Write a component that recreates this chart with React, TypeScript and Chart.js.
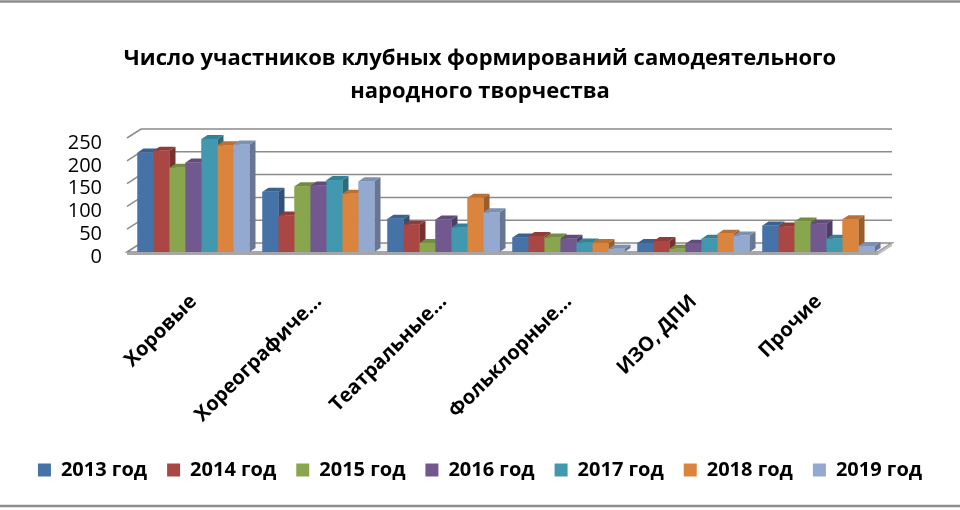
import React, { useEffect, useRef } from 'react';
import { Chart, ChartConfiguration, Plugin, registerables } from 'chart.js';

Chart.register(...registerables);

const categories = ['Хоровые', 'Хореографиче…', 'Театральные…', 'Фольклорные…', 'ИЗО, ДПИ', 'Прочие'];
const seriesNames = ['2013 год', '2014 год', '2015 год', '2016 год', '2017 год', '2018 год', '2019 год'];

const y2013 = [218, 132, 73, 32, 20, 58];
const y2014 = [222, 80, 60, 35, 24, 56];
const y2015 = [185, 144, 20, 32, 7, 67];
const y2016 = [196, 146, 71, 29, 18, 62];
const y2017 = [248, 158, 54, 21, 29, 29];
const y2018 = [234, 128, 119, 20, 40, 72];
const y2019 = [236, 155, 87, 7, 36, 13];

const yTicks = [0, 50, 100, 150, 200, 250];

const colors = ['#4572a7', '#aa4643', '#89a54e', '#71588f', '#4198af', '#db843d', '#93a9cf'];

// depth of the back wall and of each bar (fake 3D)
const WALL_DX = 14;
const WALL_DY = 9;
const BAR_DX = 6;
const BAR_DY = 4;

function shade(hex: string, f: number) {
  const n = parseInt(hex.slice(1), 16);
  const r = Math.round(((n >> 16) & 255) * f);
  const g = Math.round(((n >> 8) & 255) * f);
  const b = Math.round((n & 255) * f);
  return `rgb(${r},${g},${b})`;
}

function poly(ctx: CanvasRenderingContext2D, pts: number[][]) {
  ctx.beginPath();
  ctx.moveTo(pts[0][0], pts[0][1]);
  for (let i = 1; i < pts.length; i++) ctx.lineTo(pts[i][0], pts[i][1]);
  ctx.closePath();
}

const framePlugin: Plugin<'bar'> = {
  id: 'frame',
  beforeDraw(chart) {
    const { ctx, width } = chart;
    ctx.save();
    ctx.fillStyle = '#fff';
    ctx.fillRect(0, 0, chart.width, chart.height);
    ctx.strokeStyle = '#8e8e8e';
    ctx.lineWidth = 2.5;
    ctx.beginPath();
    ctx.moveTo(0, 1.5);
    ctx.lineTo(width, 1.5);
    ctx.moveTo(0, 506);
    ctx.lineTo(width, 506);
    ctx.stroke();
    ctx.restore();
  }
};

const wallPlugin: Plugin<'bar'> = {
  id: 'walls',
  beforeDatasetsDraw(chart) {
    const { ctx, chartArea } = chart;
    const y = chart.scales.y;
    const left = chartArea.left - 4;
    const right = chartArea.right - 3;
    ctx.save();
    ctx.strokeStyle = '#8c8c8c';
    ctx.lineWidth = 1.5;
    y.ticks.forEach((t) => {
      if (t.value === 0) return;
      const py = y.getPixelForValue(t.value);
      ctx.beginPath();
      ctx.moveTo(left, py);
      ctx.lineTo(left + WALL_DX, py - WALL_DY);
      ctx.lineTo(right + WALL_DX, py - WALL_DY);
      ctx.stroke();
    });
    const p0 = y.getPixelForValue(0);
    // floor
    poly(ctx, [[left, p0], [left + WALL_DX, p0 - WALL_DY], [right + WALL_DX, p0 - WALL_DY], [right, p0]]);
    ctx.fillStyle = '#f4f4f4';
    ctx.fill();
    ctx.stroke();
    // floor thickness
    poly(ctx, [[left, p0], [right, p0], [right, p0 + 3], [left, p0 + 3]]);
    ctx.fillStyle = '#a6a6a6';
    ctx.fill();
    poly(ctx, [[right, p0], [right + WALL_DX, p0 - WALL_DY], [right + WALL_DX, p0 - WALL_DY + 3], [right, p0 + 3]]);
    ctx.fillStyle = '#bdbdbd';
    ctx.fill();
    ctx.restore();
  }
};

const bar3dPlugin: Plugin<'bar'> = {
  id: 'bar3d',
  afterDatasetsDraw(chart) {
    const { ctx } = chart;
    ctx.save();
    chart.data.datasets.forEach((ds, i) => {
      const meta = chart.getDatasetMeta(i);
      const color = ds.backgroundColor as string;
      meta.data.forEach((el) => {
        const { x, y, base, width } = el.getProps(['x', 'y', 'base', 'width'], true) as any;
        const l = x - width / 2;
        const r = x + width / 2;
        poly(ctx, [[r, y], [r + BAR_DX, y - BAR_DY], [r + BAR_DX, base - BAR_DY], [r, base]]);
        ctx.fillStyle = shade(color, 0.7);
        ctx.fill();
        poly(ctx, [[l, y], [l + BAR_DX, y - BAR_DY], [r + BAR_DX, y - BAR_DY], [r, y]]);
        ctx.fillStyle = shade(color, 0.85);
        ctx.fill();
        ctx.fillStyle = color;
        ctx.fillRect(l, y, width, base - y);
      });
    });
    ctx.restore();
  }
};

const App = () => {
  const ref = useRef<HTMLCanvasElement | null>(null);
  const chartRef = useRef<Chart<'bar'> | null>(null);

  useEffect(() => {
    const values = [y2013, y2014, y2015, y2016, y2017, y2018, y2019];

    const config: ChartConfiguration<'bar'> = {
      type: 'bar',
      data: {
        labels: categories,
        datasets: seriesNames.map((name, i) => ({
          label: name,
          data: values[i],
          backgroundColor: colors[i],
          borderWidth: 0,
          categoryPercentage: 0.896,
          barPercentage: 1.0
        }))
      },
      options: {
        animation: false,
        responsive: true,
        maintainAspectRatio: false,
        layout: { padding: { left: 0, right: 0, top: 0, bottom: 20 } },
        font: { family: 'Open Sans' },
        plugins: {
          title: {
            display: true,
            text: ['Число участников клубных формирований самодеятельного', 'народного творчества'],
            color: '#000',
            font: { family: 'Open Sans', size: 22, weight: 'bold', lineHeight: 1.5 },
            padding: { top: 42, bottom: 30 }
          },
          legend: {
            position: 'bottom',
            labels: {
              color: '#000',
              boxWidth: 13,
              boxHeight: 13,
              padding: 20,
              font: { family: 'Open Sans', size: 20, weight: 'bold' }
            }
          },
          tooltip: { enabled: false }
        },
        scales: {
          x: {
            grid: { display: false },
            border: { display: false },
            afterFit: (scale) => { scale.height = 188; },
            ticks: {
              color: '#000',
              autoSkip: false,
              maxRotation: 45,
              minRotation: 45,
              padding: 30,
              font: { family: 'Open Sans', size: 20, weight: 'bold' }
            }
          },
          y: {
            min: 0,
            max: 250,
            grid: { display: false, drawTicks: false },
            border: { display: false },
            afterFit: (scale) => { scale.width = 131; },
            afterBuildTicks: (scale) => { scale.ticks = yTicks.map((v) => ({ value: v })); },
            ticks: {
              color: '#000',
              autoSkip: false,
              padding: 29,
              labelOffset: 5,
              font: { family: 'Open Sans', size: 20 }
            }
          },
          yRight: {
            position: 'right',
            grid: { display: false },
            border: { display: false },
            ticks: { display: false },
            afterFit: (scale) => { scale.width = 79; }
          }
        }
      },
      plugins: [framePlugin, wallPlugin, bar3dPlugin]
    };

    if (chartRef.current) chartRef.current.destroy();
    if (ref.current) chartRef.current = new Chart(ref.current, config);

    return () => {
      chartRef.current?.destroy();
      chartRef.current = null;
    };
  }, []);

  return (
    <div style={{ position: 'fixed', left: 0, top: 0, width: 960, height: 510 }}>
      <canvas ref={ref}></canvas>
    </div>
  );
};

export default App;
